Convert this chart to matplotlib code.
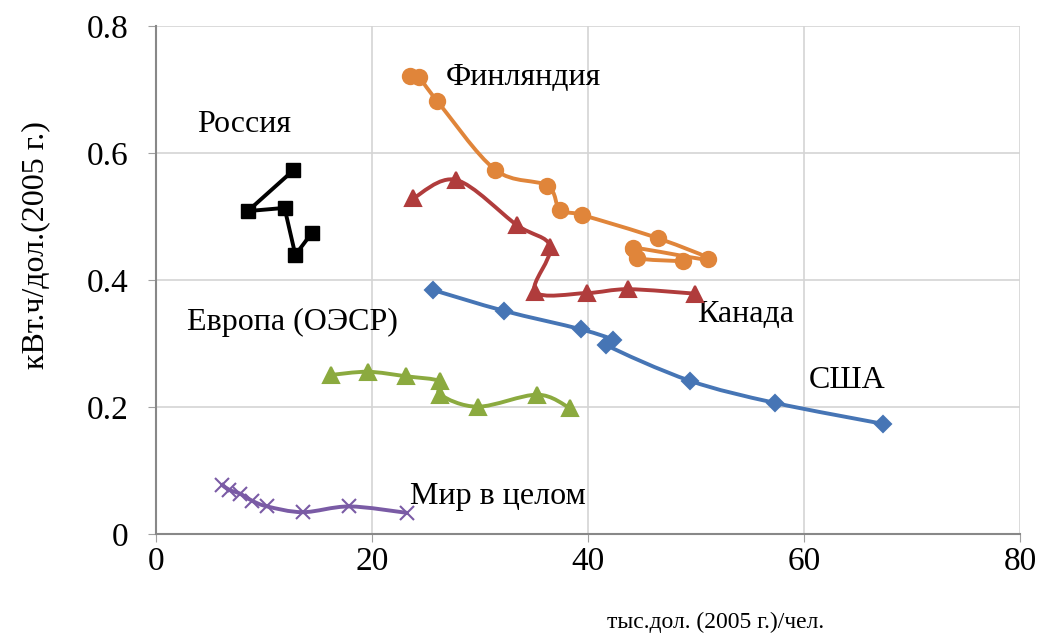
import numpy as np
import matplotlib
matplotlib.use("Agg")
import matplotlib.pyplot as plt
from matplotlib.path import Path
from matplotlib.patches import PathPatch

plt.rcParams['font.family'] = ['Liberation Serif', 'DejaVu Serif']

# ВВП на душу населения (тыс. долл. 2005 г.) и электроемкость (кВт.ч/долл.)
finland_x = [23.5, 24.3, 26.0, 31.4, 36.2, 37.4, 39.4, 46.5, 51.1, 44.2, 44.5, 48.8]
finland_y = [0.721, 0.720, 0.683, 0.574, 0.549, 0.510, 0.503, 0.466, 0.433, 0.451, 0.435, 0.430]

canada_x = [23.8, 27.8, 33.4, 36.5, 35.1, 39.9, 43.7, 49.9]
canada_y = [0.529, 0.558, 0.487, 0.453, 0.382, 0.380, 0.386, 0.379]

usa_x = [25.6, 32.2, 39.3, 42.3, 41.7, 49.4, 57.3, 67.3]
usa_y = [0.385, 0.352, 0.323, 0.306, 0.298, 0.242, 0.207, 0.174]

europe_x = [16.2, 19.6, 23.1, 26.3, 26.3, 29.8, 35.3, 38.3]
europe_y = [0.251, 0.256, 0.249, 0.241, 0.220, 0.201, 0.220, 0.199]

world_x = [6.1, 6.8, 7.8, 8.9, 10.3, 13.6, 17.9, 23.2]
world_y = [0.078, 0.070, 0.064, 0.053, 0.044, 0.035, 0.044, 0.034]

russia_x = [12.7, 8.5, 11.9, 12.9, 14.4]
russia_y = [0.573, 0.509, 0.514, 0.440, 0.474]

x_ticks = [0, 20, 40, 60, 80]
y_ticks = [0, 0.2, 0.4, 0.6, 0.8]
y_tick_labels = ['0', '0.2', '0.4', '0.6', '0.8']


def smooth_path(xs, ys):
    # сглаженная линия как в Excel: кубические Безье (Catmull-Rom)
    p = np.column_stack([xs, ys]).astype(float)
    n = len(p)
    verts = [p[0]]
    codes = [Path.MOVETO]
    for i in range(n - 1):
        p0 = p[i - 1] if i > 0 else p[i]
        p1 = p[i]
        p2 = p[i + 1]
        p3 = p[i + 2] if i + 2 < n else p[i + 1]
        c1 = p1 + (p2 - p0) / 6.0
        c2 = p2 - (p3 - p1) / 6.0
        verts += [c1, c2, p2]
        codes += [Path.CURVE4] * 3
    return Path(verts, codes)


def draw_series(ax, xs, ys, color, marker, ms, smooth=True):
    if smooth:
        patch = PathPatch(smooth_path(xs, ys), facecolor='none', edgecolor=color,
                          lw=2.8, capstyle='round', joinstyle='round', zorder=3)
        ax.add_patch(patch)
        ax.plot(xs, ys, linestyle='none', marker=marker, ms=ms, color=color,
                mec=color, mew=1.5, zorder=4)
    else:
        ax.plot(xs, ys, marker=marker, ms=ms, color=color, lw=2.8, zorder=4)


fig, ax = plt.subplots(figsize=(10.4, 6.4), dpi=100)
fig.subplots_adjust(left=0.15, right=0.981, bottom=0.165, top=0.959)

draw_series(ax, finland_x, finland_y, '#E0853A', 'o', 11)
draw_series(ax, canada_x, canada_y, '#B03C3C', '^', 12)
draw_series(ax, usa_x, usa_y, '#4675B5', 'D', 8)
draw_series(ax, europe_x, europe_y, '#8BAA3F', '^', 11)
draw_series(ax, world_x, world_y, '#7A5BA5', 'x', 10)
draw_series(ax, russia_x, russia_y, '#000000', 's', 10, smooth=False)

# подписи рядов
lbl = dict(fontsize=23, ha='left', va='center', color='black')
ax.text(26.8, 0.720, 'Финляндия', **lbl)
ax.text(3.8, 0.646, 'Россия', **lbl)
ax.text(2.9, 0.333, 'Европа (ОЭСР)', **lbl)
ax.text(50.1, 0.346, 'Канада', **lbl)
ax.text(60.4, 0.243, 'США', **lbl)
ax.text(23.5, 0.059, 'Мир в целом', **lbl)

ax.set_xlim(0, 80)
ax.set_ylim(0, 0.8)
ax.set_xticks(x_ticks)
ax.set_yticks(y_ticks)
ax.set_yticklabels(y_tick_labels)
ax.tick_params(axis='both', labelsize=24, direction='out', length=6,
               color='#A0A0A0')
ax.tick_params(axis='y', pad=14)
ax.tick_params(axis='x', pad=3)
ax.grid(True, color='#D4D4D4', lw=1.2)
ax.set_axisbelow(True)
for s in ['top', 'right']:
    ax.spines[s].set_visible(False)
for s in ['left', 'bottom']:
    ax.spines[s].set_color('#888888')
    ax.spines[s].set_linewidth(1.5)

ax.set_xlabel('тыс.дол. (2005 г.)/чел.', fontsize=17)
ax.xaxis.set_label_coords(0.647, -0.152)
ax.set_ylabel('кВт.ч/дол.(2005 г.)', fontsize=23)
ax.yaxis.set_label_coords(-0.122, 0.569)

fig.savefig('out.png', dpi=100)
